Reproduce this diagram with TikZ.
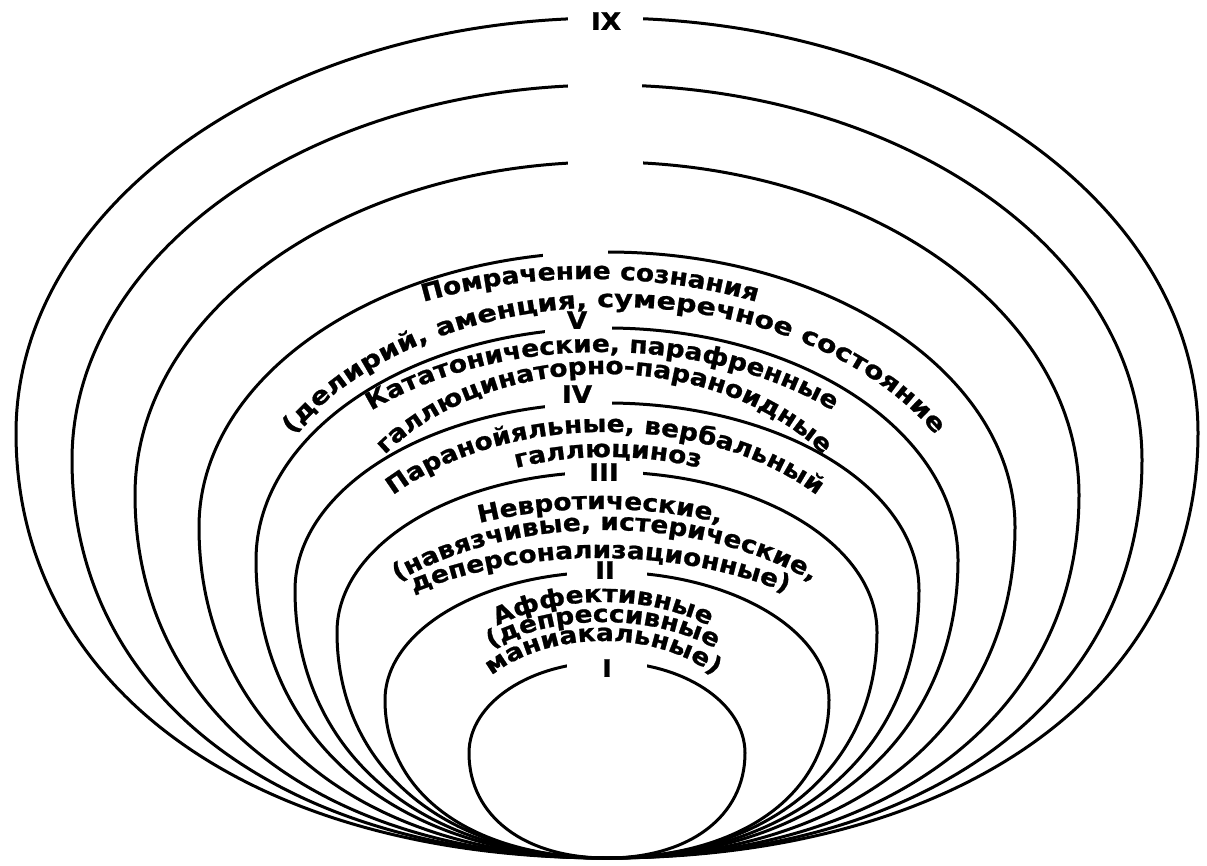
\documentclass[tikz,border=0pt]{standalone}
\usepackage{fontspec}
\newfontfamily\lblfont{DejaVu Sans}[FakeStretch=1.1, FakeBold=1]
\newfontfamily\lblwidefont{DejaVu Sans}[FakeStretch=1.19, FakeBold=1]
\usetikzlibrary{decorations.text}
\newcommand{\lbl}{\lblfont\bfseries\fontsize{24pt}{27pt}\selectfont}
\newcommand{\lblwide}{\lblwidefont\bfseries\fontsize{24pt}{27pt}\selectfont}
\tikzset{
  shapeline/.style={draw=black, line width=3pt},
  gapbox/.style={fill=white, draw=none, inner sep=0pt, minimum height=14pt},
  numlbl/.style={font=\lbl, inner sep=0pt},
}
% #1 top y, #2 half width, #3 y of widest point
\newcommand{\eggshape}[3]{%
  \draw[shapeline] (607,#1) .. controls ({607-0.5523*#2},#1) and ({607-#2},{#3-0.5523*(#3-#1)}) .. ({607-#2},#3)
  .. controls ({607-#2},{#3+0.6*(858-#3)}) and ({607-0.6*#2},858) .. (607,858)
  .. controls ({607+0.6*#2},858) and ({607+#2},{#3+0.6*(858-#3)}) .. ({607+#2},#3)
  .. controls ({607+#2},{#3-0.5523*(#3-#1)}) and ({607+0.5523*#2},#1) .. (607,#1) -- cycle;}
% #1 centre x, #2 apex y, #3 half width, #4 height, #5 text (with format)
\newcommand{\arctext}[5]{%
  \path[decorate, decoration={text along path, text align=center, text={#5}}]
  ({#1-#3},{#2+#4}) .. controls ({#1-#3},{#2+0.4477*#4}) and ({#1-0.5523*#3},#2) .. (#1,#2)
  .. controls ({#1+0.5523*#3},#2) and ({#1+#3},{#2+0.4477*#4}) .. ({#1+#3},{#2+#4});}
\begin{document}
\begin{tikzpicture}[x=1pt, y=-1pt]
\useasboundingbox (0,0) rectangle (1207,865);
% nested shapes
\eggshape{18}{591}{433}
\eggshape{85}{535}{460}
\eggshape{162}{472}{495}
\eggshape{252}{408}{527}
\eggshape{328}{351}{560}
\eggshape{403}{312}{590}
\eggshape{472}{270}{632}
\eggshape{572}{222}{700}
\eggshape{662}{138}{753}
% gaps in the tops
\node[gapbox, minimum width=75pt] (g1) at (605.5,18) {};
\node[gapbox, minimum width=74pt] (g2) at (605,85) {};
\node[gapbox, minimum width=75pt] (g3) at (605.5,162) {};
\node[gapbox, minimum width=65pt] (g4) at (575.5,252) {};
\node[gapbox, minimum width=67pt] (g5) at (578.5,328) {};
\node[gapbox, minimum width=67pt] (g6) at (578.5,403) {};
\node[gapbox, minimum width=78pt] (g7) at (604,472) {};
\node[gapbox, minimum width=80pt] (g8) at (607,570) {};
\node[gapbox, minimum width=80pt] (g9) at (607,662) {};
% roman numerals
\node[numlbl] (nIX) at (606,21) {IX};
\node[numlbl] (nV) at (577,320) {V};
\node[numlbl] (nIV) at (577,394) {IV};
\node[numlbl] (nIII) at (604,472) {III};
\node[numlbl] (nII) at (605,570) {II};
\node[numlbl] (nI) at (607,668) {I};
% curved texts
\arctext{590}{279}{420}{280}{|\lbl|Помрачение сознания}
\arctext{614}{307}{368}{250}{|\lblwide|(делирий, аменция, сумеречное состояние}
\arctext{602}{352}{338}{218}{|\lbl|Кататонические, парафренные}
\arctext{604}{374}{272}{198}{|\lbl|галлюцинаторно-параноидные}
\arctext{605}{432}{282}{186}{|\lbl|Паранойяльные, вербальный}
\arctext{608}{457}{260}{170}{|\lbl|галлюциноз}
\arctext{600}{509}{350}{230}{|\lbl|Невротические,}
\arctext{605}{530}{320}{216}{|\lbl|(навязчивые, истерические,}
\arctext{600}{558}{360}{240}{|\lbl|деперсонализационные)}
\arctext{603}{602}{173}{114}{|\lbl|Аффективные}
\arctext{603}{622}{177}{117}{|\lbl|(депрессивные}
\arctext{603}{641}{145}{96}{|\lbl|маниакальные)}
\end{tikzpicture}
\end{document}
